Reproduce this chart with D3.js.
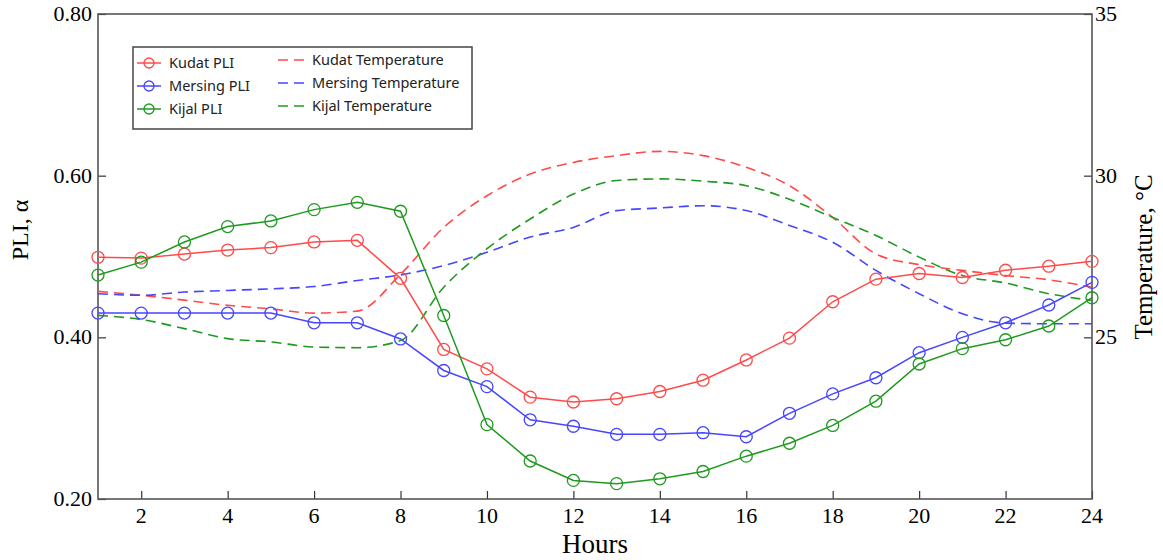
<!DOCTYPE html>
<html>
<head>
<meta charset="utf-8">
<script src="https://cdn.jsdelivr.net/npm/d3@7"></script>
<style>
body{margin:0;background:#fff;}
</style>
</head>
<body>
<div id="chart"></div>
<script>
// data
let hours = [1,2,3,4,5,6,7,8,9,10,11,12,13,14,15,16,17,18,19,20,21,22,23,24];
let kudatPLI   = [0.499,0.498,0.503,0.508,0.511,0.518,0.520,0.473,0.385,0.361,0.326,0.320,0.324,0.333,0.347,0.372,0.399,0.444,0.472,0.479,0.474,0.483,0.488,0.494];
let mersingPLI = [0.430,0.430,0.430,0.430,0.430,0.418,0.418,0.398,0.359,0.339,0.298,0.290,0.280,0.280,0.282,0.277,0.306,0.330,0.350,0.381,0.400,0.418,0.440,0.468];
let kijalPLI   = [0.477,0.493,0.518,0.537,0.544,0.558,0.567,0.556,0.427,0.292,0.247,0.223,0.219,0.225,0.234,0.253,0.269,0.291,0.321,0.367,0.386,0.397,0.414,0.449];
let kudatTemp   = [26.42,26.30,26.15,25.99,25.88,25.75,25.81,26.95,28.40,29.38,30.05,30.41,30.62,30.75,30.62,30.26,29.69,28.71,27.58,27.25,27.07,26.91,26.78,26.55];
let mersingTemp = [26.35,26.30,26.40,26.45,26.50,26.57,26.76,26.93,27.22,27.63,28.10,28.40,28.92,29.00,29.07,28.92,28.46,27.94,27.07,26.35,25.73,25.44,25.42,25.42];
let kijalTemp   = [25.68,25.55,25.27,24.96,24.86,24.70,24.68,24.90,26.55,27.74,28.66,29.43,29.85,29.90,29.83,29.69,29.27,28.71,28.15,27.48,26.91,26.68,26.35,26.14];
let xTicks = [2,4,6,8,10,12,14,16,18,20,22,24];
let pliTicks = [0.2,0.4,0.6,0.8];
let tempTicks = [25,30,35];
let series = [
    {name:'Kudat', color:'#ff4a4a', pli:kudatPLI, temp:kudatTemp},
    {name:'Mersing', color:'#4646ff', pli:mersingPLI, temp:mersingTemp},
    {name:'Kijal', color:'#1f9a1f', pli:kijalPLI, temp:kijalTemp}
];

let W = 1163, H = 560;
let mLeft = 98, mRight = 1092, mTop = 14, mBottom = 499;
let serif = '"Liberation Serif","Times New Roman",serif';
let sans = '"Noto Sans","Open Sans",sans-serif';

let svg = d3.select('#chart').append('svg')
    .attr('width',W).attr('height',H);

let x = d3.scaleLinear().domain([1,24]).range([mLeft,mRight]);
let y = d3.scaleLinear().domain([0.2,0.8]).range([mBottom,mTop]);
let yT = d3.scaleLinear().domain([20,35]).range([mBottom,mTop]);

// axes, ticks pointing inward
let axB = svg.append('g').attr('transform','translate(0,'+mBottom+')')
    .call(d3.axisTop(x).tickValues(xTicks).tickSize(8).tickFormat(''));
svg.append('g').selectAll('text').data(xTicks)
    .enter().append('text')
    .attr('x',d=>x(d)).attr('y',mBottom+24)
    .attr('text-anchor','middle')
    .style('font-family',serif).style('font-size','22px')
    .text(d=>d);

let axL = svg.append('g').attr('transform','translate('+mLeft+',0)')
    .call(d3.axisRight(y).tickValues(pliTicks).tickSize(8).tickFormat(''));
svg.append('g').selectAll('text').data(pliTicks)
    .enter().append('text')
    .attr('x',mLeft-6).attr('y',d=>y(d)+7)
    .attr('text-anchor','end')
    .style('font-family',serif).style('font-size','22px')
    .text(d=>d.toFixed(2));

let axR = svg.append('g').attr('transform','translate('+mRight+',0)')
    .call(d3.axisLeft(yT).tickValues(tempTicks).tickSize(8).tickFormat(''));
svg.append('g').selectAll('text').data(tempTicks)
    .enter().append('text')
    .attr('x',mRight+3).attr('y',d=>yT(d)+7)
    .attr('text-anchor','start')
    .style('font-family',serif).style('font-size','22px')
    .text(d=>d);

[axB,axL,axR].forEach(a=>{
    a.select('.domain').remove();
    a.selectAll('line').attr('stroke','#333').attr('stroke-width',1.2);
});

// frame
svg.append('rect')
    .attr('x',mLeft).attr('y',mTop)
    .attr('width',mRight-mLeft).attr('height',mBottom-mTop)
    .attr('fill','none').attr('stroke','#555').attr('stroke-width',1.6);

// axis titles
svg.append('text')
    .attr('transform','translate(28,230) rotate(-90)')
    .attr('text-anchor','middle')
    .style('font-family',serif).style('font-size','24px')
    .text('PLI, α');
svg.append('text')
    .attr('transform','translate(1152,257) rotate(-90)')
    .attr('text-anchor','middle')
    .style('font-family',serif).style('font-size','25px')
    .text('Temperature, °C');
svg.append('text')
    .attr('x',(mLeft+mRight)/2).attr('y',553)
    .attr('text-anchor','middle')
    .style('font-family',serif).style('font-size','27px')
    .text('Hours');

// temperature, dashed
let tLine = d3.line().x((d,i)=>x(hours[i])).y(d=>yT(d)).curve(d3.curveMonotoneX);
svg.append('g').selectAll('path').data(series)
    .enter().append('path')
    .attr('d',d=>tLine(d.temp))
    .attr('fill','none')
    .attr('stroke',d=>d.color)
    .attr('stroke-width',1.6)
    .attr('stroke-dasharray','10,6');

// PLI, solid with open circles
let pLine = d3.line().x((d,i)=>x(hours[i])).y(d=>y(d));
let grp = svg.append('g').selectAll('g').data(series)
    .enter().append('g')
    .attr('stroke',d=>d.color)
    .attr('fill','none');
grp.append('path')
    .attr('d',d=>pLine(d.pli))
    .attr('stroke-width',1.5);
grp.selectAll('circle').data(d=>d.pli)
    .enter().append('circle')
    .attr('cx',(d,i)=>x(hours[i])).attr('cy',d=>y(d))
    .attr('r',6)
    .attr('stroke-width',1.3);

// legend
let lg = svg.append('g');
lg.append('rect')
    .attr('x',133).attr('y',47).attr('width',339).attr('height',82)
    .attr('fill','#fff').attr('stroke','#444').attr('stroke-width',1.5);
let rowY = [63,86,109];
let item = lg.selectAll('g.item').data(series)
    .enter().append('g')
    .attr('transform',(d,i)=>'translate(0,'+rowY[i]+')');
item.append('line')
    .attr('x1',137).attr('x2',161).attr('y1',0).attr('y2',0)
    .attr('stroke',d=>d.color).attr('stroke-width',1.5);
item.append('circle')
    .attr('cx',149).attr('cy',0).attr('r',5)
    .attr('fill','none').attr('stroke',d=>d.color).attr('stroke-width',1.3);
item.append('text')
    .attr('x',169).attr('y',5)
    .style('font-family',sans).style('font-size','14.5px').attr('fill','#222')
    .text(d=>d.name+' PLI');
item.append('line')
    .attr('x1',278).attr('x2',306).attr('y1',-3).attr('y2',-3)
    .attr('stroke',d=>d.color).attr('stroke-width',1.5)
    .attr('stroke-dasharray','10,6');
item.append('text')
    .attr('x',312).attr('y',2)
    .style('font-family',sans).style('font-size','14.5px').attr('fill','#222')
    .text(d=>d.name+' Temperature');
</script>
</body>
</html>
